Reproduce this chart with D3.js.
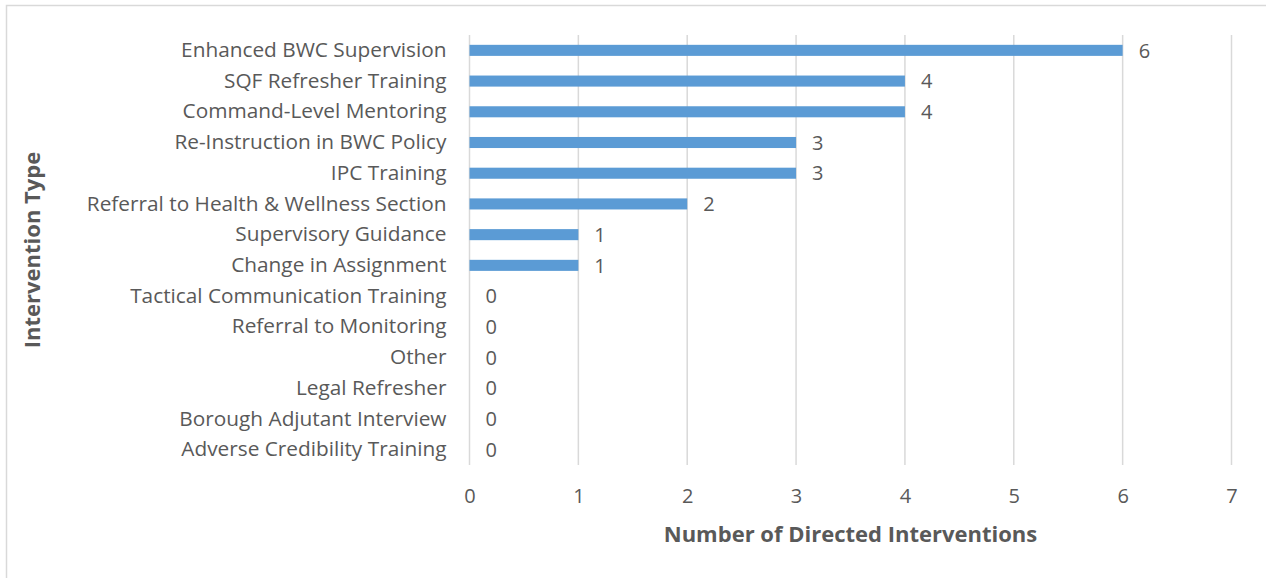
<!DOCTYPE html>
<meta charset="utf-8">
<style>
    body { margin: 0; overflow: hidden; background: #fff; }
    text { font-family: "Open Sans", sans-serif; fill: #595959; }
</style>
<svg id="canvas" width="1266" height="578"></svg>
<script src="https://cdn.jsdelivr.net/npm/d3@7"></script>
<script>

    var categories = [
        "Enhanced BWC Supervision",
        "SQF Refresher Training",
        "Command-Level Mentoring",
        "Re-Instruction in BWC Policy",
        "IPC Training",
        "Referral to Health & Wellness Section",
        "Supervisory Guidance",
        "Change in Assignment",
        "Tactical Communication Training",
        "Referral to Monitoring",
        "Other",
        "Legal Refresher",
        "Borough Adjutant Interview",
        "Adverse Credibility Training"
    ];
    var values = [6, 4, 4, 3, 3, 2, 1, 1, 0, 0, 0, 0, 0, 0];
    var xTicks = [0, 1, 2, 3, 4, 5, 6, 7];

    var svg = d3.select("svg");
    var plotLeft = 469.5, plotRight = 1231.5, plotTop = 35, plotBottom = 465;

    // chart frame (only top and left edges fall inside the picture)
    svg.append("rect")
        .attr("x", 6.5).attr("y", 5.5)
        .attr("width", 1300).attr("height", 600)
        .attr("fill", "none").attr("stroke", "#d9d9d9").attr("stroke-width", 1.5);

    var x = d3.scaleLinear().domain([0, 7]).range([plotLeft, plotRight]);
    var y = d3.scaleBand().domain(categories).range([plotTop, plotBottom]).paddingInner(0.64).paddingOuter(0.32);

    // gridlines
    svg.append("g").selectAll("line")
        .data(xTicks)
        .enter().append("line")
        .attr("x1", function(d) { return x(d); })
        .attr("x2", function(d) { return x(d); })
        .attr("y1", plotTop).attr("y2", plotBottom)
        .attr("stroke", "#d9d9d9").attr("stroke-width", 1.5);

    // bars
    svg.append("g").selectAll("rect")
        .data(values)
        .enter().append("rect")
        .attr("x", x(0))
        .attr("y", function(d, i) { return y(categories[i]); })
        .attr("width", function(d) { return x(d) - x(0); })
        .attr("height", y.bandwidth())
        .attr("fill", "#5b9bd5");

    // value labels
    svg.append("g").selectAll("text")
        .data(values)
        .enter().append("text")
        .attr("x", function(d) { return x(d) + 16; })
        .attr("y", function(d, i) { return y(categories[i]) + y.bandwidth() / 2; })
        .attr("dy", "0.36em")
        .style("font-size", "20px")
        .text(function(d) { return d; });

    // category axis
    var yAxis = svg.append("g")
        .attr("transform", "translate(" + (plotLeft - 23) + ",0)")
        .call(d3.axisLeft(y).tickSize(0).tickPadding(0));
    yAxis.select(".domain").remove();
    yAxis.selectAll("text").style("font-size", "20.8px").attr("fill", "#595959").attr("font-family", null);

    // value axis
    var xAxis = svg.append("g")
        .attr("transform", "translate(0," + (plotBottom + 24) + ")")
        .call(d3.axisBottom(x).tickValues(xTicks).tickFormat(d3.format("d")).tickSize(0).tickPadding(0));
    xAxis.select(".domain").remove();
    xAxis.selectAll("text").style("font-size", "20px").attr("fill", "#595959").attr("font-family", null);

    svg.append("text")
        .attr("x", (plotLeft + plotRight) / 2).attr("y", 542)
        .attr("text-anchor", "middle")
        .style("font-size", "22px").style("font-weight", "bold")
        .text("Number of Directed Interventions");

    svg.append("text")
        .attr("transform", "translate(40," + ((plotTop + plotBottom) / 2) + ") rotate(-90)")
        .attr("text-anchor", "middle")
        .style("font-size", "22px").style("font-weight", "bold")
        .text("Intervention Type");

</script>
